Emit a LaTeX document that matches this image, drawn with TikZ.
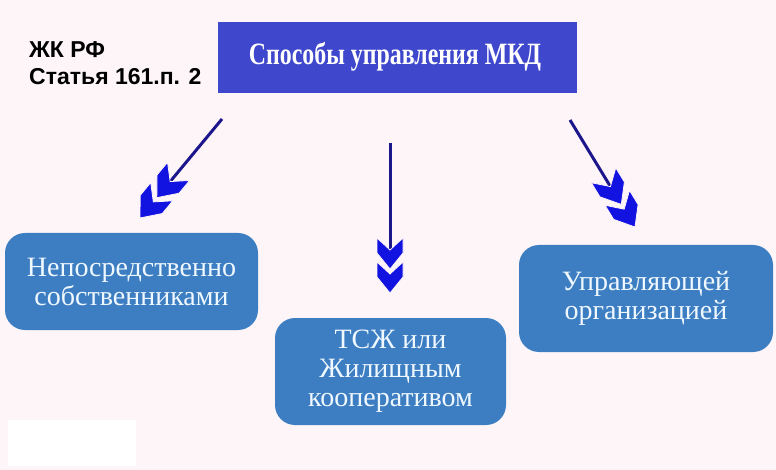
\documentclass[tikz,border=0pt]{standalone}
\usepackage{graphicx}
\usepackage{fontspec}
\setmainfont{Liberation Serif}
\newfontfamily\sansf{Liberation Sans}
\usetikzlibrary{calc}
\definecolor{bg}{RGB}{253,245,248}
\definecolor{titleblue}{RGB}{63,72,204}
\definecolor{boxblue}{RGB}{61,126,194}
\definecolor{lineblue}{RGB}{28,22,140}
\definecolor{chevblue}{RGB}{18,18,225}
\definecolor{boxtext}{RGB}{240,248,255}
\tikzset{
  optbox/.style={draw=none, fill=boxblue, rounded corners=20pt, text=boxtext, align=center,
    font=\fontsize{28}{29}\selectfont, inner sep=0pt},
  titlebox/.style={draw=none, fill=titleblue, text=white, inner sep=0pt},
  arrline/.style={draw=lineblue, line width=3pt},
  chev/.style={fill=chevblue, draw=bg, line width=0.8pt},
  pics/dchev/.style={code={
    \filldraw[chev] (-24,0) -- (-40,13) -- (-55,13) -- (-43,0) -- (-55,-13) -- (-40,-13) -- cycle;
    \filldraw[chev] (0,0) -- (-16,13) -- (-31,13) -- (-19,0) -- (-31,-13) -- (-16,-13) -- cycle;
  }}
}
\begin{document}
\begin{tikzpicture}[x=1pt,y=-1pt]
\fill[bg] (0,0) rectangle (776,470);
\useasboundingbox (0,0) rectangle (776,470);

\node[fill=white, minimum width=128pt, minimum height=46pt, inner sep=0pt] (patch) at (72,443) {};

\node[titlebox, minimum width=359pt, minimum height=71pt] (title) at (397.5,57.5) {};
\node[text=white, inner sep=0pt, font=\bfseries\fontsize{31}{31}\selectfont] (titletext) at (395,57)
  {\scalebox{0.77}[1]{Способы управления МКД}};

\node[font=\sansf\bfseries\fontsize{23}{27}\selectfont, align=left, anchor=west, inner sep=0pt] (law) at (29,63)
  {ЖК РФ\\Статья 161.п. 2};

\node[optbox, minimum width=253pt, minimum height=97pt] (own) at (131.5,281.5)
  {Непосредственно\\собственниками};
\node[optbox, minimum width=231pt, minimum height=107pt] (hoa) at (390.5,371.5)
  {ТСЖ или\\Жилищным\\кооперативом};
\node[optbox, minimum width=254pt, minimum height=107pt] (mgmt) at (646,298.5)
  {Управляющей\\организацией};

\coordinate (s1) at (222,119);
\coordinate (e1) at (140,218);
\coordinate (s2) at (390,143);
\coordinate (e2) at (390,293);
\coordinate (s3) at (570,120);
\coordinate (e3) at (635,227);

\draw[arrline] (s1) -- ($(e1)!40pt!(s1)$);
\draw[arrline] (s2) -- ($(e2)!40pt!(s2)$);
\draw[arrline] (s3) -- ($(e3)!40pt!(s3)$);

\pic[rotate=230.4, scale=1.1] at (e1) {dchev};
\pic[rotate=270] at (e2) {dchev};
\pic[rotate=-58.7, scale=1.1] at (e3) {dchev};
\end{tikzpicture}
\end{document}
